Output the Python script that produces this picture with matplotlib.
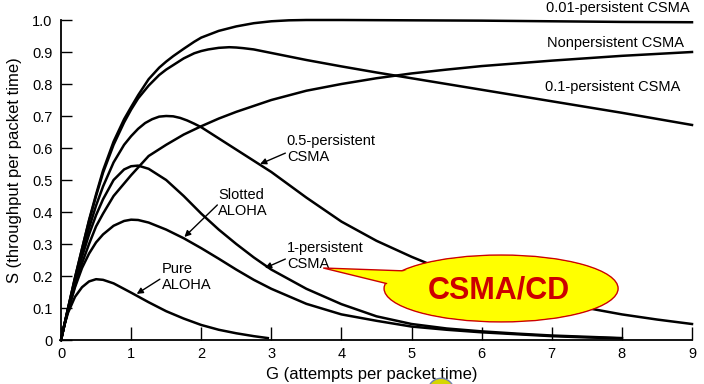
import matplotlib
matplotlib.use("Agg")
import matplotlib.pyplot as plt
from matplotlib.patches import Ellipse, Polygon, Circle

plt.rcParams['font.family'] = ['Liberation Sans', 'DejaVu Sans']

# curves: G (attempts per packet time) -> S (throughput)
g_pure = [0, 0.05, 0.1, 0.2, 0.3, 0.4, 0.5, 0.6, 0.75, 1.0, 1.25, 1.5, 1.75, 2.0, 2.25, 2.5, 2.75, 2.95]
s_pure = [0, 0.048, 0.085, 0.135, 0.165, 0.183, 0.19, 0.188, 0.177, 0.148, 0.118, 0.09, 0.067, 0.047, 0.032, 0.021, 0.012, 0.006]

g_slotted = [0, 0.05, 0.1, 0.2, 0.3, 0.4, 0.5, 0.6, 0.75, 0.9, 1.0, 1.1, 1.25, 1.5, 1.75, 2.0, 2.25, 2.5,
             2.75, 3.0, 3.5, 4.0, 4.5, 5.0, 5.5, 6.0, 6.5, 7.0, 7.5, 8.0]
s_slotted = [0, 0.048, 0.092, 0.165, 0.225, 0.27, 0.305, 0.33, 0.357, 0.372, 0.376, 0.375, 0.367, 0.345, 0.318,
             0.287, 0.254, 0.22, 0.188, 0.16, 0.113, 0.08, 0.06, 0.042, 0.032, 0.024, 0.018, 0.012, 0.008, 0.005]

g_p1 = [0, 0.05, 0.1, 0.2, 0.3, 0.4, 0.5, 0.6, 0.75, 0.9, 1.0, 1.1, 1.25, 1.5, 1.75, 2.0, 2.25, 2.5,
        2.75, 3.0, 3.5, 4.0, 4.5, 5.0, 5.5, 6.0, 6.5, 7.0, 7.5, 8.0]
s_p1 = [0, 0.049, 0.096, 0.18, 0.26, 0.33, 0.39, 0.44, 0.50, 0.533, 0.543, 0.545, 0.535, 0.50, 0.45,
        0.395, 0.345, 0.30, 0.258, 0.22, 0.16, 0.112, 0.074, 0.05, 0.036, 0.027, 0.02, 0.014, 0.01, 0.006]

g_p05 = [0, 0.05, 0.1, 0.2, 0.3, 0.4, 0.5, 0.6, 0.75, 0.9, 1.0, 1.1, 1.2, 1.3, 1.4, 1.5, 1.6, 1.7, 1.8,
         1.9, 2.0, 2.25, 2.5, 2.75, 3.0, 3.25, 3.5, 4.0, 4.5, 5.0, 5.5, 6.0, 6.5, 7.0, 7.5, 8.0, 8.5, 9.0]
s_p05 = [0, 0.049, 0.097, 0.19, 0.275, 0.35, 0.42, 0.48, 0.555, 0.61, 0.637, 0.66, 0.678, 0.69, 0.698,
         0.70, 0.699, 0.694, 0.686, 0.676, 0.665, 0.63, 0.595, 0.56, 0.525, 0.485, 0.445, 0.37, 0.31, 0.26,
         0.215, 0.178, 0.148, 0.122, 0.10, 0.08, 0.064, 0.05]

g_p01 = [0, 0.05, 0.1, 0.2, 0.3, 0.4, 0.5, 0.6, 0.75, 0.9, 1.0, 1.1, 1.25, 1.4, 1.5, 1.6, 1.75, 1.9, 2.0,
         2.1, 2.25, 2.4, 2.5, 2.6, 2.75, 3.0, 3.5, 4, 4.5, 5, 6, 7, 8, 9]
s_p01 = [0, 0.05, 0.099, 0.195, 0.285, 0.372, 0.45, 0.523, 0.61, 0.68, 0.72, 0.755, 0.795, 0.828, 0.845,
         0.859, 0.88, 0.896, 0.903, 0.908, 0.913, 0.915, 0.914, 0.912, 0.908, 0.897, 0.875, 0.855, 0.836,
         0.818, 0.782, 0.746, 0.71, 0.672]

g_p001 = [0, 0.05, 0.1, 0.2, 0.3, 0.4, 0.5, 0.6, 0.75, 0.9, 1.0, 1.1, 1.25, 1.4, 1.5, 1.6, 1.75, 1.9, 2.0,
          2.25, 2.5, 2.75, 3.0, 3.25, 3.5, 4, 5, 6, 7, 8, 9]
s_p001 = [0, 0.05, 0.099, 0.195, 0.285, 0.375, 0.455, 0.53, 0.62, 0.69, 0.728, 0.765, 0.815, 0.851, 0.87,
          0.887, 0.91, 0.932, 0.945, 0.966, 0.98, 0.99, 0.996, 0.999, 1.0, 1.0, 0.999, 0.998, 0.996, 0.994,
          0.993]

g_nonp = [0, 0.05, 0.1, 0.2, 0.3, 0.4, 0.5, 0.6, 0.75, 1.0, 1.25, 1.5, 1.75, 2.0, 2.25, 2.5, 3.0, 3.5,
          4, 4.5, 5, 5.5, 6, 7, 8, 9]
s_nonp = [0, 0.048, 0.092, 0.17, 0.24, 0.3, 0.355, 0.395, 0.45, 0.515, 0.575, 0.61, 0.642, 0.668, 0.692,
          0.713, 0.75, 0.779, 0.80, 0.818, 0.833, 0.845, 0.856, 0.873, 0.888, 0.90]

x_ticks = list(range(10))
y_ticks = [0, 0.1, 0.2, 0.3, 0.4, 0.5, 0.6, 0.7, 0.8, 0.9, 1.0]
y_ticklabels = ['0', '0.1', '0.2', '0.3', '0.4', '0.5', '0.6', '0.7', '0.8', '0.9', '1.0']

fig = plt.figure(figsize=(7.04, 3.84), dpi=100)
ax = fig.add_axes([61 / 704, 44 / 384, 631 / 704, 320 / 384])

lw = 1.8
for g, s in [(g_pure, s_pure), (g_slotted, s_slotted), (g_p1, s_p1), (g_p05, s_p05),
             (g_p01, s_p01), (g_p001, s_p001), (g_nonp, s_nonp)]:
    ax.plot(g, s, color='black', lw=lw, solid_joinstyle='round', clip_on=False)

ax.set_xlim(0, 9)
ax.set_ylim(0, 1.0)
ax.spines['top'].set_visible(False)
ax.spines['right'].set_visible(False)
ax.spines['left'].set_linewidth(1.3)
ax.spines['bottom'].set_linewidth(1.3)
ax.set_xticks(x_ticks)
ax.set_yticks(y_ticks)
ax.set_yticklabels(y_ticklabels)
ax.tick_params(axis='x', direction='in', length=9.5, width=1.0, labelsize=10.5, pad=5)
ax.tick_params(axis='y', direction='in', length=7.7, width=1.0, labelsize=10.5, pad=6)
ax.set_xlabel('G (attempts per packet time)', fontsize=12)
ax.set_ylabel('S (throughput per packet time)', fontsize=12)
ax.xaxis.set_label_coords(0.493, -0.085)
ax.yaxis.set_label_coords(-0.062, 0.53)

fs = 10.5
ax.text(6.92, 1.0375, '0.01-persistent CSMA', fontsize=fs, va='center', ha='left', clip_on=False)
ax.text(6.93, 0.928, 'Nonpersistent CSMA', fontsize=fs, va='center', ha='left')
ax.text(6.90, 0.79, '0.1-persistent CSMA', fontsize=fs, va='center', ha='left')
ax.text(3.22, 0.597, '0.5-persistent\nCSMA', fontsize=fs, va='center', ha='left')
ax.text(2.24, 0.428, 'Slotted\nALOHA', fontsize=fs, va='center', ha='left')
ax.text(3.22, 0.2625, '1-persistent\nCSMA', fontsize=fs, va='center', ha='left')
ax.text(1.44, 0.197, 'Pure\nALOHA', fontsize=fs, va='center', ha='left')

arrows = [((3.20, 0.584), (2.84, 0.55)),
          ((2.23, 0.422), (1.76, 0.322)),
          ((3.20, 0.253), (2.91, 0.225)),
          ((1.41, 0.19), (1.08, 0.144))]
for tail, head in arrows:
    ax.annotate('', xy=head, xytext=tail,
                arrowprops=dict(arrowstyle='-|>', color='black', lw=1.0,
                                mutation_scale=9, shrinkA=0, shrinkB=0))

# CSMA/CD callout
yellow = '#ffff00'
red = '#cc0000'
cx, cy, ew, eh = 6.277, 0.161, 3.338, 0.209
ax.add_patch(Ellipse((cx, cy), ew, eh, facecolor=yellow, edgecolor=red, lw=1.0, zorder=5, clip_on=False))
ax.add_patch(Polygon([(3.74, 0.225), (5.15, 0.214), (4.95, 0.160)], closed=True,
                     facecolor=yellow, edgecolor=red, lw=1.0, zorder=6, clip_on=False))
ax.add_patch(Ellipse((cx, cy), ew - 0.05, eh - 0.007, facecolor=yellow, edgecolor='none', zorder=7,
                     clip_on=False))
ax.text(6.25, 0.156, 'CSMA/CD', color=red, fontsize=22, fontweight='bold',
        ha='center', va='center', zorder=8)

# small yellow circle at the bottom edge
fig.patches.append(Circle((4.41, -0.075), 0.132, transform=fig.dpi_scale_trans,
                          facecolor='#d6d600', edgecolor='#7080b0', lw=1.0))

fig.savefig('out.png', dpi=100)
